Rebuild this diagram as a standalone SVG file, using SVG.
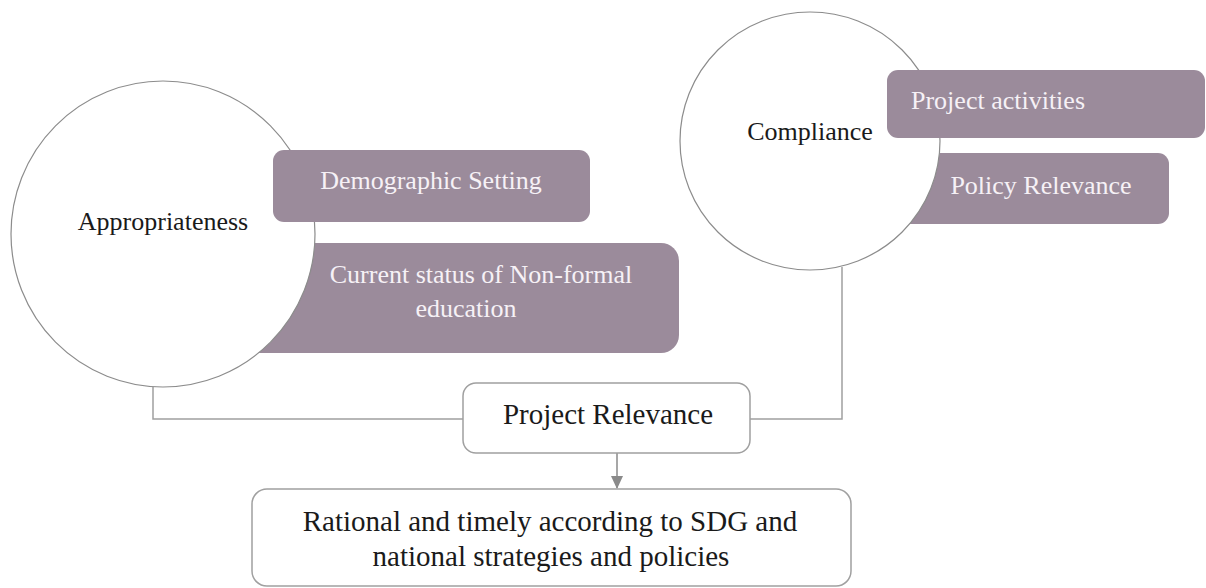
<svg xmlns="http://www.w3.org/2000/svg" width="1206" height="588" viewBox="0 0 1206 588">
<style>
.bg{fill:#ffffff}
.circ{fill:#ffffff;stroke:#8c8c8c;stroke-width:1.2}
.mbox{fill:#9b8b9b}
.wbox{fill:#ffffff;stroke:#a0a0a0;stroke-width:1.5}
.lt{font-family:"Liberation Serif","Times New Roman",serif;font-size:26px;fill:#f6f1f6;text-anchor:middle}
.dk{font-family:"Liberation Serif","Times New Roman",serif;font-size:26px;fill:#1a1a1a;text-anchor:middle}
.dk29{font-family:"Liberation Serif","Times New Roman",serif;font-size:29px;fill:#1a1a1a;text-anchor:middle}
.conn{fill:none;stroke:#a0a0a0;stroke-width:1.5}
</style>
<defs>
<marker id="arr" markerWidth="14" markerHeight="14" refX="12" refY="6" orient="auto" markerUnits="userSpaceOnUse">
<path d="M0,0 L13,6 L0,12 Z" fill="#8a8a8a"/>
</marker>
</defs>
<rect class="bg" x="0" y="0" width="1206" height="588"/>

<g id="connectors">
<path class="conn" d="M153,387 V419 H463"/>
<path class="conn" d="M842,267 V419 H750"/>
<line x1="617" y1="453" x2="617" y2="488" stroke="#8a8a8a" stroke-width="1.5" marker-end="url(#arr)"/>
</g>

<g id="current-status">
<rect class="mbox" x="240" y="243" width="439" height="110" rx="18"/>
<text class="lt" x="481" y="283">Current status of Non-formal</text>
<text class="lt" x="466" y="317">education</text>
</g>

<g id="appropriateness">
<ellipse class="circ" cx="163" cy="234" rx="152" ry="153"/>
<text class="dk" x="163" y="230">Appropriateness</text>
</g>

<g id="demographic-setting">
<rect class="mbox" x="273" y="150" width="317" height="72" rx="11"/>
<text class="lt" x="431" y="189">Demographic Setting</text>
</g>

<g id="policy-relevance">
<rect class="mbox" x="890" y="153" width="279" height="71" rx="11"/>
<text class="lt" x="1041" y="194">Policy Relevance</text>
</g>

<g id="compliance">
<ellipse class="circ" cx="810" cy="141" rx="130" ry="129"/>
<text class="dk" x="810" y="140">Compliance</text>
</g>

<g id="project-activities">
<rect class="mbox" x="887" y="70" width="318" height="68" rx="11"/>
<text class="lt" x="911" y="109" style="text-anchor:start">Project activities</text>
</g>

<g id="project-relevance">
<rect class="wbox" x="463" y="383" width="287" height="70" rx="13"/>
<text class="dk29" x="608" y="424">Project Relevance</text>
</g>

<g id="rational">
<rect class="wbox" x="252" y="489" width="599" height="97" rx="15"/>
<text class="dk29" x="550" y="531">Rational and timely according to SDG and</text>
<text class="dk29" x="551" y="566">national strategies and policies</text>
</g>
</svg>
